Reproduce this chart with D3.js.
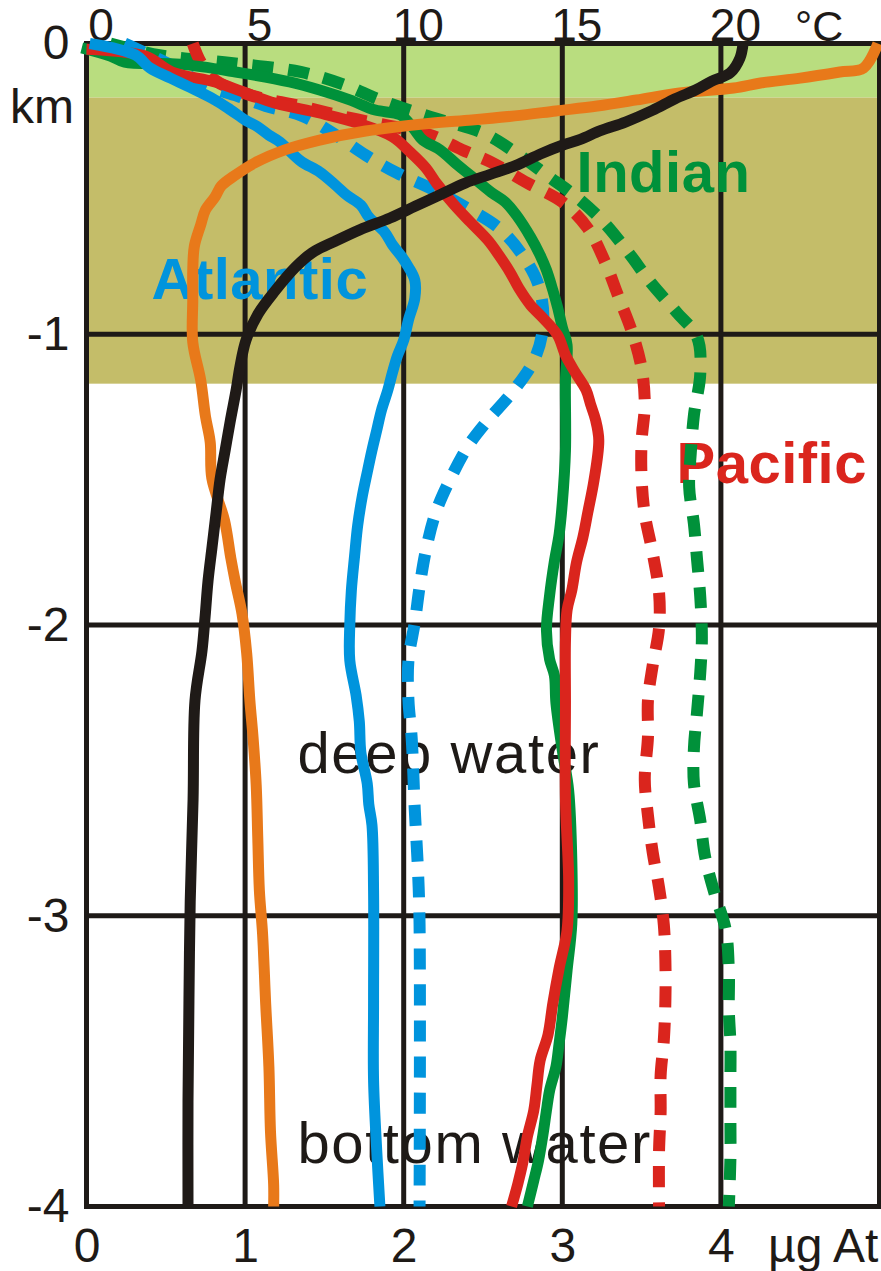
<!DOCTYPE html>
<html>
<head>
  <meta charset="utf-8">
  <title>Ocean depth profiles</title>
  <script src="https://cdn.jsdelivr.net/npm/d3@7"></script>
  <style>
    body { margin: 0; background: #fff; }
    text { font-family: "Liberation Sans", Arial, sans-serif; fill: #1e1a17; }
  </style>
</head>
<body>
<script>
  // axis ticks
  const tempTicks = [0, 5, 10, 15, 20];
  const nutTicks = [0, 1, 2, 3, 4];
  const depthTicks = [0, 1, 2, 3, 4];
  // layer boundaries (km)
  const layerDepths = [0, 0.186, 1.17];

  // profiles: [value, depth km]; temperature in °C, the others in µg At
  const tempProfile = [[20.7,0],[20.6,0.05],[20.3,0.1],[19.7,0.13],[19.2,0.16],[18.56,0.19],[17.84,0.23],
    [16.99,0.27],[16.2,0.3],[15.57,0.33],[15.0,0.35],[14.31,0.38],[13.52,0.42],[12.73,0.45],[11.94,0.48],
    [11.15,0.52],[10.36,0.56],[9.57,0.6],[8.63,0.64],[7.84,0.68],[7.11,0.72],[6.58,0.77],[5.95,0.85],
    [5.41,0.93],[5.03,1.02],[4.84,1.11],[4.72,1.19],[4.53,1.3],[4.37,1.4],[4.21,1.5],[4.09,1.61],
    [3.96,1.73],[3.83,1.85],[3.74,1.97],[3.64,2.09],[3.42,2.26],[3.36,2.6],[3.27,2.95],[3.23,3.29],
    [3.2,3.64],[3.2,4.0]];

  const orangeProfile = [[4.99,0],[4.9,0.084],[4.75,0.098],[4.5,0.119],[4.25,0.136],[4.08,0.153],
    [3.74,0.17],[3.47,0.194],[3.22,0.215],[2.96,0.232],[2.7,0.249],[2.43,0.263],[2.17,0.274],[1.76,0.301],
    [1.47,0.332],[1.25,0.366],[1.06,0.411],[0.93,0.456],[0.85,0.49],[0.81,0.528],[0.75,0.573],[0.72,0.624],
    [0.68,0.697],[0.67,0.779],[0.67,0.882],[0.67,1.027],[0.72,1.158],[0.75,1.282],[0.78,1.371],[0.79,1.495],
    [0.87,1.64],[0.91,1.77],[0.94,1.856],[0.98,1.96],[1.01,2.097],[1.03,2.259],[1.05,2.386],[1.07,2.551],
    [1.08,2.734],[1.09,2.913],[1.11,3.061],[1.13,3.305],[1.15,3.519],[1.16,3.742],[1.18,3.925],[1.18,4.0]];

  const atlanticSolid = [[0.02,0],[0.31,0.04],[0.4,0.084],[0.53,0.119],[0.65,0.15],[0.81,0.194],
    [0.91,0.229],[1.0,0.263],[1.08,0.287],[1.15,0.315],[1.22,0.339],[1.35,0.404],[1.47,0.442],[1.57,0.487],
    [1.64,0.521],[1.73,0.556],[1.78,0.597],[1.88,0.649],[1.93,0.693],[1.99,0.735],[2.03,0.769],[2.07,0.814],
    [2.07,0.876],[2.03,0.951],[2.0,1.02],[1.96,1.075],[1.93,1.13],[1.9,1.192],[1.86,1.261],[1.83,1.33],
    [1.8,1.399],[1.77,1.475],[1.74,1.554],[1.71,1.657],[1.69,1.764],[1.67,1.881],[1.66,2.001],[1.66,2.121],
    [1.7,2.242],[1.72,2.331],[1.73,2.438],[1.77,2.545],[1.78,2.617],[1.8,2.689],[1.81,2.913],[1.81,3.291],
    [1.81,3.567],[1.83,3.808],[1.85,4.0]];

  const atlanticDashed = [[0.24,0],[0.53,0.074],[0.75,0.143],[0.97,0.184],[1.13,0.215],[1.36,0.249],
    [1.56,0.311],[1.76,0.384],[1.96,0.446],[2.18,0.501],[2.39,0.563],[2.6,0.635],[2.74,0.721],[2.85,0.831],
    [2.88,0.962],[2.83,1.079],[2.7,1.189],[2.53,1.296],[2.41,1.381],[2.29,1.502],[2.2,1.616],[2.14,1.743],
    [2.1,1.87],[2.07,1.991],[2.03,2.121],[2.03,2.259],[2.05,2.386],[2.07,2.637],[2.09,2.844],[2.1,3.03],
    [2.1,4.0]];

  const pacificSolid = [[0.0,0.02],[0.37,0.043],[0.54,0.098],[0.81,0.132],[0.99,0.167],[1.19,0.205],
    [1.47,0.239],[1.73,0.277],[1.93,0.321],[2.04,0.373],[2.14,0.428],[2.21,0.483],[2.32,0.556],[2.42,0.614],
    [2.53,0.676],[2.6,0.728],[2.67,0.786],[2.73,0.845],[2.8,0.9],[2.86,0.934],[2.97,1.003],[3.02,1.072],
    [3.08,1.13],[3.15,1.192],[3.18,1.244],[3.21,1.295],[3.23,1.364],[3.2,1.502],[3.16,1.615],[3.13,1.698],
    [3.09,1.784],[3.06,1.88],[3.03,1.949],[3.02,2.053],[3.02,2.259],[3.02,2.603],[3.04,2.878],[3.03,3.05],
    [2.98,3.181],[2.94,3.302],[2.91,3.409],[2.86,3.498],[2.84,3.584],[2.82,3.67],[2.78,3.759],[2.75,3.852],
    [2.72,3.921],[2.68,4.0]];

  const pacificDashed = [[0.67,0],[0.72,0.064],[0.81,0.126],[1.03,0.177],[1.35,0.215],[1.66,0.256],
    [1.98,0.291],[2.17,0.315],[2.37,0.366],[2.55,0.408],[2.78,0.48],[3.0,0.545],[3.16,0.635],[3.27,0.752],
    [3.35,0.865],[3.44,0.993],[3.5,1.117],[3.52,1.24],[3.5,1.368],[3.5,1.495],[3.52,1.619],[3.57,1.753],
    [3.61,1.888],[3.61,2.011],[3.57,2.139],[3.54,2.259],[3.54,2.386],[3.52,2.531],[3.54,2.655],[3.57,2.782],
    [3.61,2.903],[3.64,3.03],[3.65,3.154],[3.65,3.291],[3.64,3.429],[3.62,3.549],[3.62,3.673],[3.61,3.808],
    [3.61,4.0]];

  const indianSolid = [[-0.03,0.015],[0.15,0.043],[0.24,0.064],[0.59,0.071],[0.94,0.098],[1.28,0.132],
    [1.47,0.16],[1.66,0.194],[1.82,0.229],[1.98,0.246],[2.06,0.291],[2.12,0.332],[2.23,0.366],[2.34,0.418],
    [2.42,0.453],[2.55,0.511],[2.64,0.545],[2.71,0.59],[2.8,0.666],[2.86,0.728],[2.9,0.779],[2.94,0.848],
    [2.97,0.907],[3.0,0.976],[3.03,1.037],[3.02,1.158],[3.02,1.399],[3.0,1.581],[2.98,1.688],[2.95,1.781],
    [2.92,1.898],[2.9,2.018],[2.92,2.118],[2.95,2.173],[2.96,2.269],[3.0,2.431],[3.04,2.569],[3.06,2.81],
    [3.06,3.027],[3.03,3.188],[3.0,3.35],[2.98,3.439],[2.96,3.519],[2.92,3.601],[2.9,3.67],[2.88,3.746],
    [2.85,3.842],[2.82,3.911],[2.78,4.0]];

  const indianDashed = [[0.15,0],[0.46,0.04],[0.91,0.067],[1.35,0.098],[1.63,0.143],[1.85,0.194],
    [2.17,0.253],[2.5,0.308],[2.7,0.373],[2.91,0.456],[3.09,0.528],[3.26,0.614],[3.42,0.721],[3.56,0.824],
    [3.72,0.924],[3.85,1.01],[3.87,1.134],[3.83,1.278],[3.81,1.409],[3.8,1.526],[3.83,1.653],[3.85,1.777],
    [3.87,1.904],[3.88,2.046],[3.87,2.163],[3.85,2.297],[3.83,2.424],[3.83,2.545],[3.87,2.672],[3.9,2.796],
    [3.96,2.923],[4.03,3.047],[4.05,3.188],[4.05,3.326],[4.06,3.439],[4.06,3.567],[4.06,3.694],[4.06,3.835],
    [4.05,4.0]];

  const width = 881;
  const height = 1271;
  const mLeft = 86.5, mRight = 879.5, mTop = 43.5, mBottom = 1206.5;

  const xTemp = d3.scaleLinear().domain([0, 25]).range([mLeft, mRight]);
  const xNut = d3.scaleLinear().domain([0, 5]).range([mLeft, mRight]);
  const y = d3.scaleLinear().domain([0, 4]).range([mTop, mBottom]);

  const ink = "#1e1a17";
  const colors = {
    black: "#1f1a17", orange: "#e8791a", blue: "#0094dd",
    red: "#da251d", green: "#00913a"
  };

  const svg = d3.select("body")
    .append("svg")
    .attr("width", width)
    .attr("height", height);

  // depth layers
  const bandColors = ["#b9dd7f", "#c4bd69"];
  svg.selectAll("rect.band")
    .data(d3.pairs(layerDepths))
    .join("rect")
    .attr("class", "band")
    .attr("x", mLeft)
    .attr("y", d => y(d[0]))
    .attr("width", mRight - mLeft)
    .attr("height", d => y(d[1]) - y(d[0]))
    .attr("fill", (d, i) => bandColors[i]);

  // grid
  svg.selectAll("line.vgrid")
    .data(tempTicks.slice(1))
    .join("line")
    .attr("class", "vgrid")
    .attr("x1", d => xTemp(d)).attr("x2", d => xTemp(d))
    .attr("y1", mTop).attr("y2", mBottom)
    .attr("stroke", ink).attr("stroke-width", 5);

  svg.selectAll("line.hgrid")
    .data(depthTicks.slice(1, -1))
    .join("line")
    .attr("class", "hgrid")
    .attr("x1", mLeft).attr("x2", mRight)
    .attr("y1", d => y(d)).attr("y2", d => y(d))
    .attr("stroke", ink).attr("stroke-width", 5);

  svg.append("rect")
    .attr("x", mLeft).attr("y", mTop)
    .attr("width", mRight - mLeft).attr("height", mBottom - mTop)
    .attr("fill", "none").attr("stroke", ink).attr("stroke-width", 5);

  // axes (labels only)
  const axTop = svg.append("g")
    .attr("transform", `translate(0,${mTop})`)
    .call(d3.axisTop(xTemp).tickValues(tempTicks).tickSize(0).tickPadding(3)
      .tickFormat(d3.format("d")));
  const axBottom = svg.append("g")
    .attr("transform", `translate(0,${mBottom})`)
    .call(d3.axisBottom(xNut).tickValues(nutTicks).tickSize(0).tickPadding(21)
      .tickFormat(d3.format("d")));
  const axLeft = svg.append("g")
    .attr("transform", `translate(${mLeft},0)`)
    .call(d3.axisLeft(y).tickValues(depthTicks).tickSize(0).tickPadding(17)
      .tickFormat(d => d === 0 ? "0" : "-" + d));

  [axTop, axBottom, axLeft].forEach(g => {
    g.select(".domain").remove();
    g.selectAll("text")
      .attr("font-family", '"Liberation Sans", Arial, sans-serif')
      .attr("font-size", 46)
      .attr("fill", ink);
  });
  axTop.selectAll("text").attr("dx", 14);
  axLeft.selectAll("text").attr("font-size", 48);
  axBottom.selectAll("text").attr("font-size", 48);

  svg.append("text").attr("x", 795).attr("y", 41)
    .attr("font-size", 43).text("°C");
  svg.append("text").attr("x", 74).attr("y", 123)
    .attr("text-anchor", "end").attr("font-size", 48).text("km");
  svg.append("text").attr("x", 768).attr("y", 1262)
    .attr("font-size", 48).text("µg At");

  // labels
  const labels = [
    {text: "Atlantic", x: 0.41, d: 0.88, color: colors.blue, bold: true},
    {text: "Indian", x: 3.09, d: 0.51, color: colors.green, bold: true},
    {text: "Pacific", x: 3.72, d: 1.51, color: colors.red, bold: true},
    {text: "deep water", x: 1.33, d: 2.51, color: ink, bold: false},
    {text: "bottom water", x: 1.33, d: 3.85, color: ink, bold: false}
  ];
  svg.selectAll("text.label")
    .data(labels)
    .join("text")
    .attr("class", "label")
    .attr("x", d => xNut(d.x))
    .attr("y", d => y(d.d))
    .attr("font-size", 58)
    .attr("font-weight", d => d.bold ? "bold" : "normal")
    .attr("letter-spacing", d => d.bold ? 0.5 : 1.6)
    .style("fill", d => d.color)
    .text(d => d.text);

  // profiles
  const lineNut = d3.line().x(d => xNut(d[0])).y(d => y(d[1])).curve(d3.curveCatmullRom);
  const lineTemp = d3.line().x(d => xTemp(d[0])).y(d => y(d[1])).curve(d3.curveCatmullRom);

  const series = [
    {data: indianDashed, color: colors.green, dashed: true},
    {data: pacificDashed, color: colors.red, dashed: true},
    {data: atlanticDashed, color: colors.blue, dashed: true},
    {data: indianSolid, color: colors.green},
    {data: pacificSolid, color: colors.red},
    {data: atlanticSolid, color: colors.blue},
    {data: orangeProfile, color: colors.orange}
  ];

  svg.selectAll("path.profile")
    .data(series)
    .join("path")
    .attr("class", "profile")
    .attr("d", d => lineNut(d.data))
    .attr("fill", "none")
    .attr("stroke", d => d.color)
    .attr("stroke-width", d => d.dashed ? 12 : 11)
    .attr("stroke-dasharray", d => d.dashed ? "21 15" : null);

  svg.append("path")
    .attr("d", lineTemp(tempProfile))
    .attr("fill", "none")
    .attr("stroke", colors.black)
    .attr("stroke-width", 11);
</script>
</body>
</html>
